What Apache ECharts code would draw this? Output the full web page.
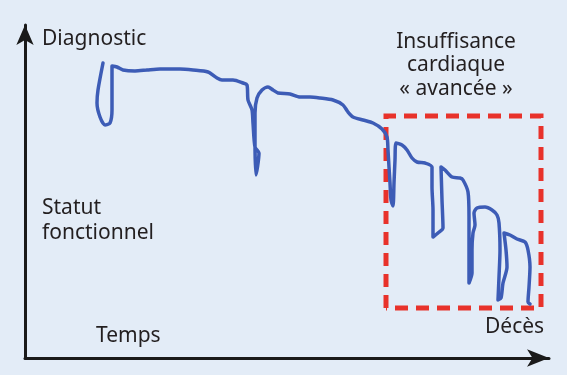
<!DOCTYPE html>
<html>
<head>
<meta charset="utf-8">
<script src="https://cdn.jsdelivr.net/npm/echarts@6/dist/echarts.min.js"></script>
<style>
html,body{margin:0;padding:0;background:#e3ecf7;}
#c{width:567px;height:375px;}
</style>
</head>
<body>
<div id="c"></div>
<script>
// Time (arbitrary units) and functional status (arbitrary units) of the hand-drawn trajectory
var timeVals = [78,73,72,75,80,85,87,87,87,92,98,110,122,135,155,168,183,192,197,208,218,222,223,227,228,230,234,231,230,230,232,237,243,248,253,265,275,285,295,308,318,323,328,338,348,357,362,363,364,365,366,368,369,370,371,377,382,387,392,400,407,407,408,408,413,418,417,416,420,427,435,438,443,444,444,444,447,447,448,450,449,452,460,467,472,474,475,474,473,476,478,482,481,479,485,492,500,503,505,504,503,505];
var statusVals = [295,268,255,241,233,235,248,275,292,291,288,287,288,289,289,288,286,280,278,278,275,273,258,248,235,211,205,183,215,245,260,268,271,268,265,264,261,261,260,258,253,246,241,238,235,229,221,208,191,175,158,152,175,198,215,213,208,200,196,195,191,171,148,121,125,130,158,191,188,181,180,178,166,141,108,75,85,108,125,133,145,150,151,148,143,135,108,81,58,60,75,91,108,125,123,119,116,108,91,71,56,54];
// "Advanced heart failure" window
var boxTime = [361,361,516,516,361];
var boxStatus = [50,242,242,50,50];

var labels = {
  yTitle: 'Diagnostic',
  status: ['Statut','fonctionnel'],
  xTitle: 'Temps',
  death: 'Décès',
  box: ['Insuffisance','cardiaque','« avancée »']
};

var curve = timeVals.map(function(t,i){return [t,statusVals[i]];});
var box = boxTime.map(function(t,i){return [t,boxStatus[i]];});

var chart = echarts.init(document.getElementById('c'));
var font = '"Noto Sans", "Open Sans", sans-serif';
var txt = '#231f20';
chart.setOption({
  backgroundColor:'#e3ecf7',
  animation:false,
  grid:{left:25,right:18,top:25,bottom:17},
  xAxis:{type:'value',min:0,max:524,
    axisLine:{show:true,symbol:['none','arrow'],symbolSize:[13,22],lineStyle:{color:'#1a1a1a',width:3}},
    axisTick:{show:false},axisLabel:{show:false},splitLine:{show:false}},
  yAxis:{type:'value',min:0,max:333,
    axisLine:{show:true,symbol:['none','arrow'],symbolSize:[13,20],lineStyle:{color:'#1a1a1a',width:3}},
    axisTick:{show:false},axisLabel:{show:false},splitLine:{show:false}},
  series:[
    {type:'line',data:box,showSymbol:false,silent:true,
      lineStyle:{color:'#e8322b',width:5,type:[13,8],join:'miter'}},
    {type:'line',data:curve,showSymbol:false,smooth:0.25,silent:true,
      lineStyle:{color:'#3d5cb6',width:3.5,cap:'round',join:'round'}}
  ],
  graphic:[
    {type:'text',left:42,top:29,style:{text:labels.yTitle,font:'21px '+font,fill:txt}},
    {type:'text',left:42,top:196,style:{text:labels.status.join('\n'),font:'21px '+font,fill:txt,lineHeight:25}},
    {type:'text',left:96,top:326,style:{text:labels.xTitle,font:'21px '+font,fill:txt}},
    {type:'text',left:485,top:317,style:{text:labels.death,font:'21px '+font,fill:txt}},
    {type:'text',x:456,y:30,style:{text:labels.box.join('\n'),font:'21px '+font,fill:txt,lineHeight:23.5,align:'center'}}
  ]
});
</script>
</body>
</html>
